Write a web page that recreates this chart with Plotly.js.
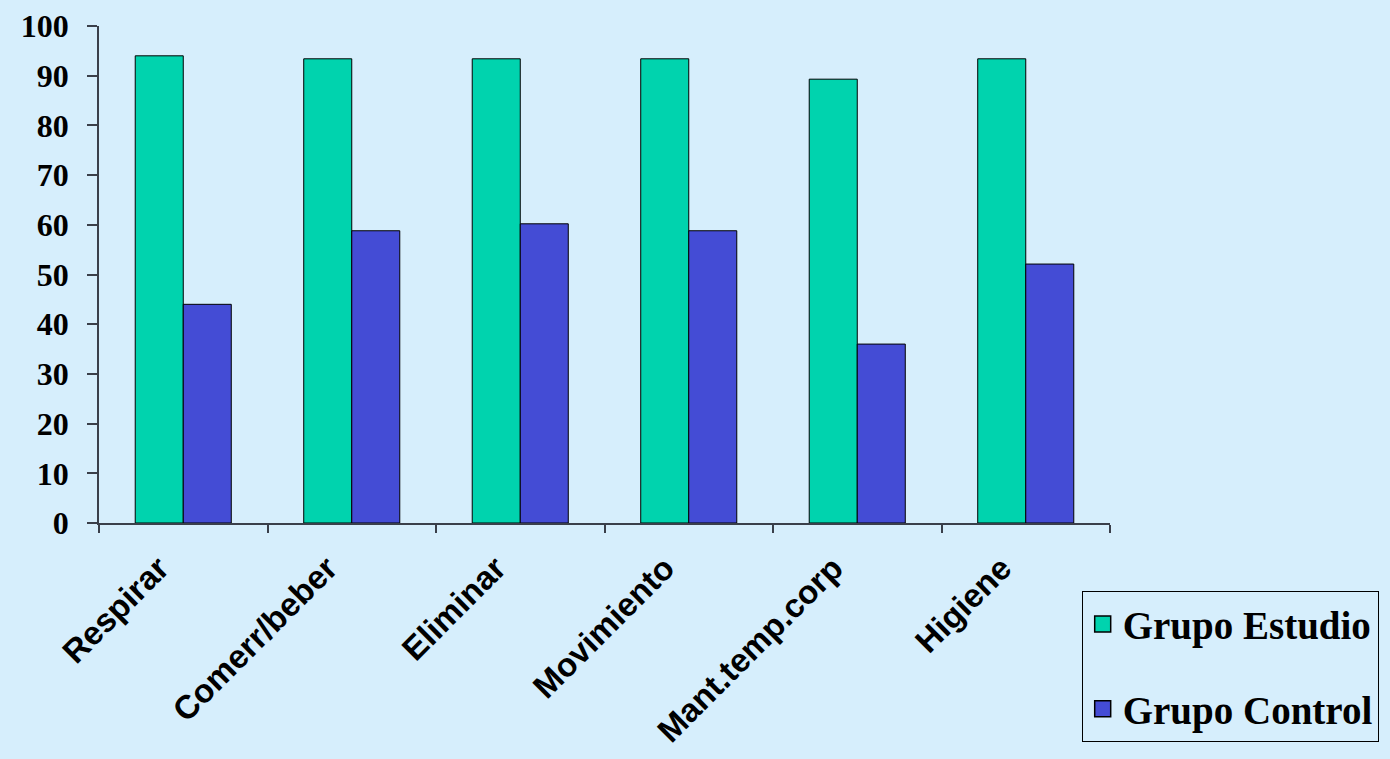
<!DOCTYPE html>
<html>
<head>
<meta charset="utf-8">
<script src="https://cdn.plot.ly/plotly-3.0.1.min.js"></script>
<style>html,body{margin:0;padding:0;background:#D6EEFC;}#chart{width:1390px;height:759px;}</style>
</head>
<body>
<div id="chart"></div>
<script>
const categories = ["Respirar", "Comerr/beber", "Eliminar", "Movimiento", "Mant.temp.corp", "Higiene"];
const grupoEstudio = [94.0, 93.4, 93.4, 93.4, 89.3, 93.4];
const grupoControl = [44.0, 58.8, 60.2, 58.8, 36.0, 52.1];
const yTicks = [0, 10, 20, 30, 40, 50, 60, 70, 80, 90, 100];
const seriesNames = ["Grupo Estudio", "Grupo Control"];
const seriesColors = ["#00D3AE", "#444CD5"];

const traces = [
  {type: "bar", name: seriesNames[0], x: categories, y: grupoEstudio, showlegend: false,
   marker: {color: seriesColors[0], line: {color: "#000000", width: 1}}},
  {type: "bar", name: seriesNames[1], x: categories, y: grupoControl, showlegend: false,
   marker: {color: seriesColors[1], line: {color: "#000000", width: 1}}},
  // legend-only entries (larger square swatches)
  {type: "scatter", mode: "markers", name: seriesNames[0], x: [categories[0]], y: [null], legendgroup: "a",
   marker: {symbol: "square", size: 19, color: seriesColors[0], line: {color: "#000000", width: 1.5}}},
  {type: "scatter", mode: "markers", name: seriesNames[1], x: [categories[0]], y: [null], legendgroup: "b",
   marker: {symbol: "square", size: 19, color: seriesColors[1], line: {color: "#000000", width: 1.5}}}
];

const layout = {
  width: 1390, height: 759,
  paper_bgcolor: "#D6EEFC", plot_bgcolor: "#D6EEFC",
  margin: {l: 99, r: 280, t: 26, b: 236, autoexpand: false},
  barmode: "group", bargap: 0.43, bargroupgap: 0,
  showlegend: true,
  legend: {x: 0.972, y: -0.137, xanchor: "left", yanchor: "top",
    bgcolor: "#D6EEFC", bordercolor: "#000000", borderwidth: 1,
    font: {family: "Liberation Serif, Times New Roman, serif", size: 39, color: "#000", weight: "bold"},
    traceorder: "grouped", tracegroupgap: 31, itemwidth: 30},
  xaxis: {type: "category", showgrid: false, zeroline: false,
    showline: true, linecolor: "#3a3f4a", linewidth: 1.5,
    ticks: "outside", tickson: "boundaries", ticklen: 8, tickcolor: "#3a3f4a", tickwidth: 1.5,
    tickangle: -45, ticklabelshift: -24, ticklabelstandoff: 11,
    tickfont: {family: "Liberation Sans, Arial, sans-serif", size: 33, color: "#000", weight: "bold"}},
  yaxis: {range: [0, 100], tickvals: yTicks, ticktext: yTicks.map(String),
    showgrid: false, zeroline: false,
    showline: true, linecolor: "#3a3f4a", linewidth: 1.5,
    ticks: "outside", ticklen: 10, tickcolor: "#3a3f4a", tickwidth: 1.5,
    ticklabelstandoff: 12,
    tickfont: {family: "Liberation Serif, Times New Roman, serif", size: 32, color: "#000", weight: "bold"}}
};

Plotly.newPlot("chart", traces, layout, {displayModeBar: false});
</script>
</body>
</html>
